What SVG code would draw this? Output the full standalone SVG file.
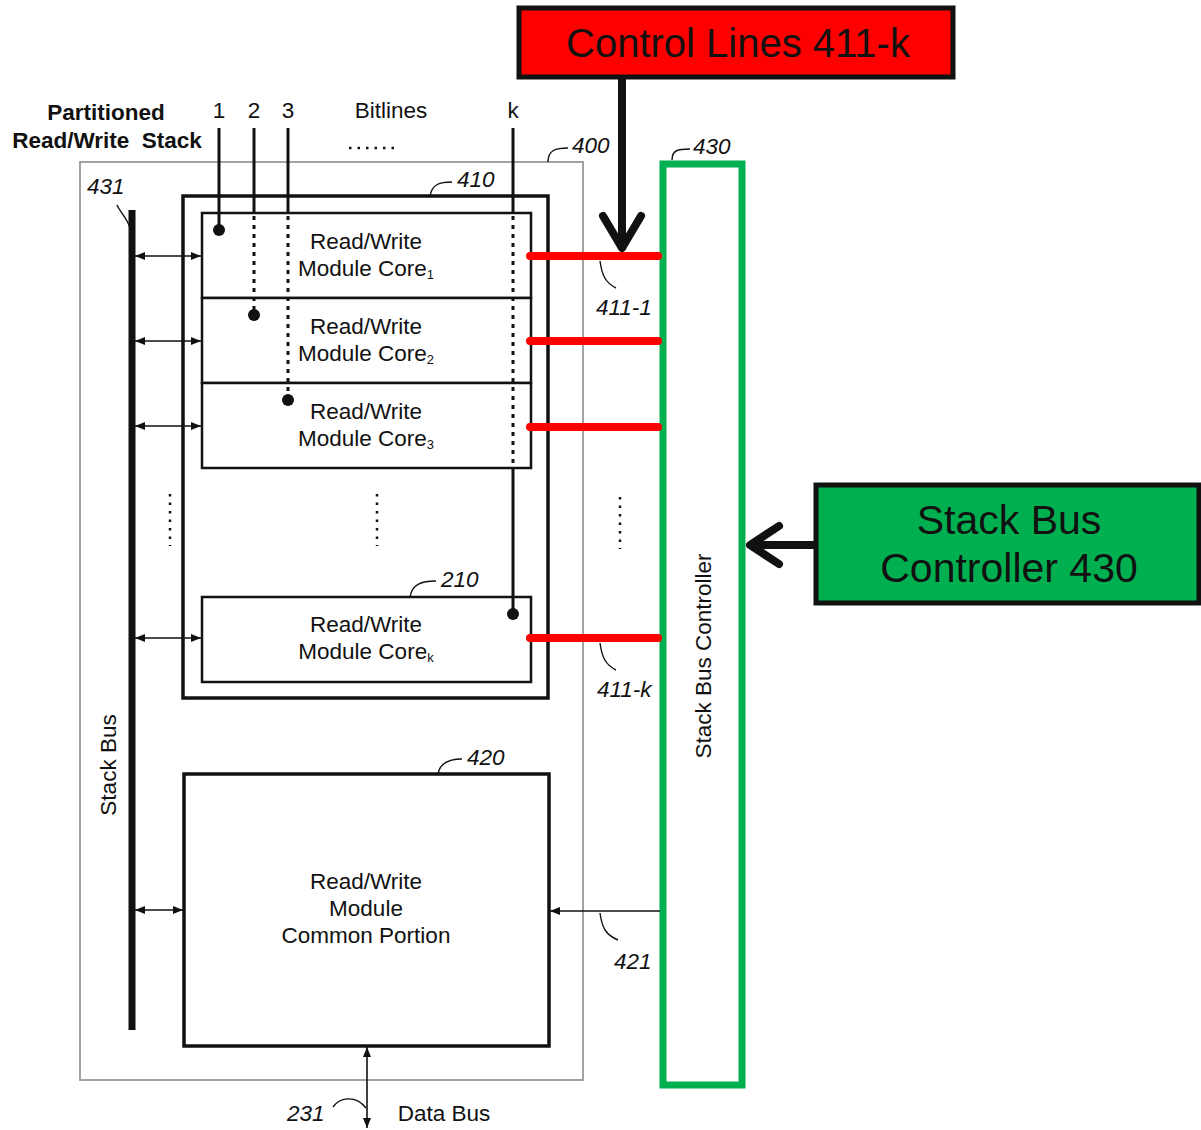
<svg xmlns="http://www.w3.org/2000/svg" width="1201" height="1130" viewBox="0 0 1201 1130">
<style>
text{font-family:"Liberation Sans",Arial,sans-serif;fill:#111}
.t{font-size:22.5px;text-anchor:middle}
.n{font-size:22.5px;font-style:italic}
.b{font-weight:bold;font-size:22.5px;text-anchor:middle}
.big{font-size:41px;text-anchor:middle}
.thin{fill:none;stroke:#111;stroke-width:1.6}
.lead{fill:none;stroke:#111;stroke-width:1.4}
.box{fill:#fff;stroke:#111;stroke-width:2.5}
.red{stroke:#ff0000;stroke-width:8;stroke-linecap:round}
.dot{fill:#111}
.dash{stroke:#111;stroke-width:3;stroke-dasharray:4 5}
.bl{stroke:#111;stroke-width:3}
</style>
<defs>
<marker id="ah" viewBox="0 0 10 10" refX="10" refY="5" markerWidth="10" markerHeight="10" markerUnits="userSpaceOnUse" orient="auto-start-reverse">
<path d="M0,1 L10,5 L0,9 Z" fill="#111"/>
</marker>
</defs>

<g id="box400">
<rect x="80" y="162" width="503" height="918" fill="none" stroke="#999" stroke-width="1.8"/>
<path class="lead" d="M548,162 C548,150 556,148 568,148"/>
<text class="n" x="572" y="153">400</text>
</g>

<g id="box410">
<rect x="183" y="196" width="365" height="502" fill="none" stroke="#111" stroke-width="3.5"/>
<path class="lead" d="M430,196 C432,184 440,182 452,182"/>
<text class="n" x="457" y="187">410</text>
</g>

<g id="core1">
<rect class="box" x="202" y="213" width="329" height="85"/>
<text class="t" x="366" y="249">Read/Write</text>
<text class="t" x="366" y="276">Module Core<tspan font-size="13" dy="3">1</tspan></text>
</g>
<g id="core2">
<rect class="box" x="202" y="298" width="329" height="85"/>
<text class="t" x="366" y="334">Read/Write</text>
<text class="t" x="366" y="361">Module Core<tspan font-size="13" dy="3">2</tspan></text>
</g>
<g id="core3">
<rect class="box" x="202" y="383" width="329" height="85"/>
<text class="t" x="366" y="419">Read/Write</text>
<text class="t" x="366" y="446">Module Core<tspan font-size="13" dy="3">3</tspan></text>
</g>
<g id="corek">
<rect class="box" x="202" y="597" width="329" height="85"/>
<text class="t" x="366" y="632">Read/Write</text>
<text class="t" x="366" y="659">Module Core<tspan font-size="13" dy="3">k</tspan></text>
<path class="lead" d="M410,597 C412,584 422,581 436,581"/>
<text class="n" x="441" y="587">210</text>
</g>

<g id="box420">
<rect x="184" y="774" width="365" height="272" fill="#fff" stroke="#111" stroke-width="3.5"/>
<path class="lead" d="M438,774 C440,762 450,759 462,759"/>
<text class="n" x="467" y="765">420</text>
<text class="t" x="366" y="889">Read/Write</text>
<text class="t" x="366" y="916">Module</text>
<text class="t" x="366" y="943">Common Portion</text>
</g>

<g id="stackbus">
<line x1="132" y1="210" x2="132" y2="1030" stroke="#111" stroke-width="7"/>
<path class="lead" d="M130,228 C127,218 120,212 117,205"/>
<text class="n" x="87" y="194">431</text>
<text class="t" transform="translate(116,765) rotate(-90)">Stack Bus</text>
</g>

<g id="controller430">
<rect x="663" y="164" width="79" height="921" fill="#fff" stroke="#00b050" stroke-width="7"/>
<path class="lead" d="M672,160 C672,150 678,149 690,149"/>
<text class="n" x="693" y="154">430</text>
<text class="t" transform="translate(711,656) rotate(-90)">Stack Bus Controller</text>
</g>

<g id="labels">
<text class="b" x="106" y="120">Partitioned</text>
<text class="b" x="107" y="148" xml:space="preserve">Read/Write  Stack</text>
<text class="t" x="219" y="118">1</text>
<text class="t" x="254" y="118">2</text>
<text class="t" x="288" y="118">3</text>
<text class="t" x="391" y="118">Bitlines</text>
<text class="t" x="513" y="118">k</text>
<line x1="349" y1="148" x2="400" y2="148" stroke="#111" stroke-width="2.5" stroke-dasharray="2.5 6"/>
<line x1="170" y1="494" x2="170" y2="546" stroke="#111" stroke-width="2.5" stroke-dasharray="2.5 6"/>
<line x1="377" y1="494" x2="377" y2="546" stroke="#111" stroke-width="2.5" stroke-dasharray="2.5 6"/>
<line x1="620" y1="497" x2="620" y2="549" stroke="#111" stroke-width="2.5" stroke-dasharray="2.5 6"/>
<text class="n" x="287" y="1121">231</text>
<text class="t" x="444" y="1121">Data Bus</text>
<text class="n" x="596" y="315">411-1</text>
<text class="n" x="597" y="697">411-k</text>
<text class="n" x="614" y="969">421</text>
</g>

<g id="callout-control">
<rect x="519" y="8" width="434" height="69" fill="#ff0000" stroke="#111" stroke-width="5"/>
<text x="738" y="57" font-size="40" text-anchor="middle">Control Lines 411-k</text>
</g>

<g id="callout-sbc">
<rect x="816" y="485" width="383" height="118" fill="#00b050" stroke="#111" stroke-width="5"/>
<text class="big" x="1009" y="534">Stack Bus</text>
<text class="big" x="1009" y="582">Controller 430</text>
</g>

<g id="connectors">
<line class="bl" x1="219" y1="128" x2="219" y2="230"/>
<circle class="dot" cx="219" cy="230" r="6"/>
<line class="bl" x1="254" y1="128" x2="254" y2="213"/>
<line class="dash" x1="254" y1="216" x2="254" y2="312"/>
<circle class="dot" cx="254" cy="315" r="6"/>
<line class="bl" x1="288" y1="128" x2="288" y2="213"/>
<line class="dash" x1="288" y1="216" x2="288" y2="397"/>
<circle class="dot" cx="288" cy="400" r="6"/>
<line class="bl" x1="513" y1="128" x2="513" y2="213"/>
<line class="dash" x1="513" y1="216" x2="513" y2="468"/>
<line class="bl" x1="513" y1="468" x2="513" y2="614"/>
<circle class="dot" cx="513" cy="614" r="6"/>
<line class="thin" x1="135" y1="256" x2="201" y2="256" marker-start="url(#ah)" marker-end="url(#ah)"/>
<line class="thin" x1="135" y1="341" x2="201" y2="341" marker-start="url(#ah)" marker-end="url(#ah)"/>
<line class="thin" x1="135" y1="426" x2="201" y2="426" marker-start="url(#ah)" marker-end="url(#ah)"/>
<line class="thin" x1="135" y1="638" x2="201" y2="638" marker-start="url(#ah)" marker-end="url(#ah)"/>
<line class="thin" x1="135" y1="910" x2="183" y2="910" marker-start="url(#ah)" marker-end="url(#ah)"/>
<line class="red" x1="530" y1="256" x2="658" y2="256"/>
<line class="red" x1="530" y1="341" x2="658" y2="341"/>
<line class="red" x1="530" y1="427" x2="658" y2="427"/>
<line class="red" x1="530" y1="638" x2="658" y2="638"/>
<path class="lead" d="M600,261 C602,276 606,283 616,288"/>
<path class="lead" d="M600,643 C602,658 606,665 616,670"/>
<line class="thin" x1="660" y1="911" x2="550" y2="911" marker-end="url(#ah)"/>
<path class="lead" d="M600,913 C602,928 606,935 618,940"/>
<line class="thin" x1="367" y1="1047" x2="367" y2="1128" marker-start="url(#ah)" marker-end="url(#ah)"/>
<path class="lead" d="M333,1107 C340,1097 356,1095 366,1108"/>
<line x1="622" y1="78" x2="622" y2="250" stroke="#111" stroke-width="8"/>
<path d="M603,216 L622,248 L641,216" fill="none" stroke="#111" stroke-width="8" stroke-linecap="round" stroke-linejoin="round"/>
<line x1="814" y1="545" x2="750" y2="545" stroke="#111" stroke-width="8"/>
<path d="M779,526 L750,545 L779,564" fill="none" stroke="#111" stroke-width="8" stroke-linecap="round" stroke-linejoin="round"/>
</g>
</svg>
